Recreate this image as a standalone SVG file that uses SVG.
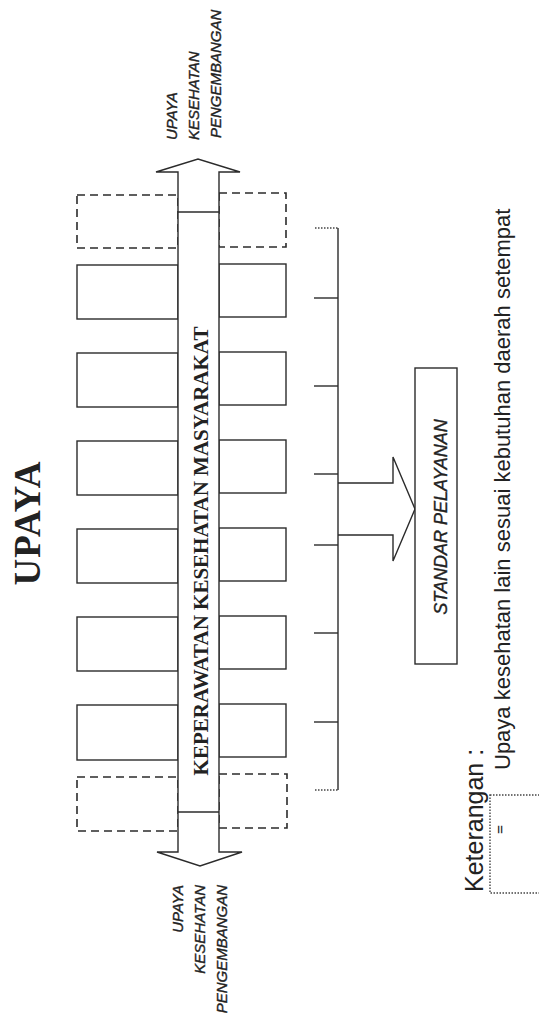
<svg xmlns="http://www.w3.org/2000/svg" width="539" height="1021" viewBox="0 0 539 1021">
<style>
.ln{fill:none;stroke:#2b2b2b;stroke-width:1.4}
.box{fill:#fff;stroke:#2b2b2b;stroke-width:1.4}
.dash{fill:#fff;stroke:#2b2b2b;stroke-width:1.6;stroke-dasharray:8 5}
.dot{fill:none;stroke:#444;stroke-width:1.4;stroke-dasharray:1.5 1.5}
.lab{font-family:"Liberation Sans",Arial,sans-serif;font-style:italic;font-size:15px;fill:#222;stroke:#222;stroke-width:0.35}
.std{font-family:"Liberation Sans",Arial,sans-serif;font-style:italic;font-size:18px;fill:#222;stroke:#222;stroke-width:0.35}
.ser{font-family:"Liberation Serif","Times New Roman",serif;font-weight:bold;fill:#222}
.note{font-family:"Liberation Sans",Arial,sans-serif;fill:#222}
</style>
<rect width="539" height="1021" fill="#fff"/>
<g id="title"><text class="ser" font-size="37" letter-spacing="1" text-anchor="middle" transform="translate(40,523) rotate(-90)">UPAYA</text></g>
<g id="boxes-left">
<rect class="dash" x="77" y="195" width="101" height="53"/>
<rect class="box" x="77" y="265" width="101" height="54"/>
<rect class="box" x="77" y="353" width="101" height="54"/>
<rect class="box" x="77" y="441" width="101" height="54"/>
<rect class="box" x="77" y="529" width="101" height="54"/>
<rect class="box" x="77" y="617" width="101" height="54"/>
<rect class="box" x="77" y="705" width="101" height="55"/>
<rect class="dash" x="77" y="777" width="101" height="54"/>
</g>
<g id="boxes-right">
<rect class="dash" x="219" y="193" width="67" height="54"/>
<rect class="box" x="219" y="264" width="67" height="53"/>
<rect class="box" x="219" y="352" width="67" height="53"/>
<rect class="box" x="219" y="440" width="67" height="53"/>
<rect class="box" x="219" y="528" width="67" height="53"/>
<rect class="box" x="219" y="616" width="67" height="53"/>
<rect class="box" x="219" y="704" width="67" height="53"/>
<rect class="dash" x="219" y="774" width="68" height="54"/>
</g>
<g id="connectors">
<path class="box" d="M178,852 V172 H156 L198,159 L240,172 H219 V852 H242 L200,866 L157,852 Z"/>
<line class="ln" x1="178" y1="212" x2="219" y2="212"/>
<line class="ln" x1="178" y1="812" x2="219" y2="812"/>
<line class="ln" x1="338" y1="228" x2="338" y2="790"/>
<line class="dot" x1="315" y1="228" x2="338" y2="228"/>
<line class="dot" x1="315" y1="790" x2="338" y2="790"/>
<line class="ln" x1="314" y1="298" x2="338" y2="298"/>
<line class="ln" x1="314" y1="386" x2="338" y2="386"/>
<line class="ln" x1="314" y1="474" x2="338" y2="474"/>
<line class="ln" x1="314" y1="545" x2="338" y2="545"/>
<line class="ln" x1="314" y1="633" x2="338" y2="633"/>
<line class="ln" x1="314" y1="722" x2="338" y2="722"/>
<path class="ln" d="M338,483 H393 V457 L415,509 L393,561 V535 H338"/>
</g>
<g id="shaft-label"><text class="ser" font-size="21" text-anchor="middle" transform="translate(207.5,551) rotate(-90)">KEPERAWATAN KESEHATAN MASYARAKAT</text></g>
<g id="label-top">
<text class="lab" transform="translate(177,140) rotate(-90)">UPAYA</text>
<text class="lab" transform="translate(199,140) rotate(-90)">KESEHATAN</text>
<text class="lab" transform="translate(221,138) rotate(-90)">PENGEMBANGAN</text>
</g>
<g id="label-bottom">
<text class="lab" text-anchor="end" transform="translate(183,885) rotate(-90)">UPAYA</text>
<text class="lab" text-anchor="end" transform="translate(205,885) rotate(-90)">KESEHATAN</text>
<text class="lab" text-anchor="end" transform="translate(227,885) rotate(-90)">PENGEMBANGAN</text>
</g>
<g id="standar">
<rect class="box" x="415" y="368" width="42" height="296"/>
<text class="std" text-anchor="middle" transform="translate(447,517) rotate(-90)">STANDAR PELAYANAN</text>
</g>
<g id="keterangan">
<text class="note" font-size="25" transform="translate(483,892) rotate(-90)">Keterangan :</text>
<rect class="dot" x="490" y="795" width="60" height="98"/>
<text class="ser" font-weight="normal" font-size="16" transform="translate(506,834) rotate(-90)">=</text>
<text class="note" font-size="22" transform="translate(510,770) rotate(-90)">Upaya kesehatan lain sesuai kebutuhan daerah setempat</text>
</g>
</svg>
